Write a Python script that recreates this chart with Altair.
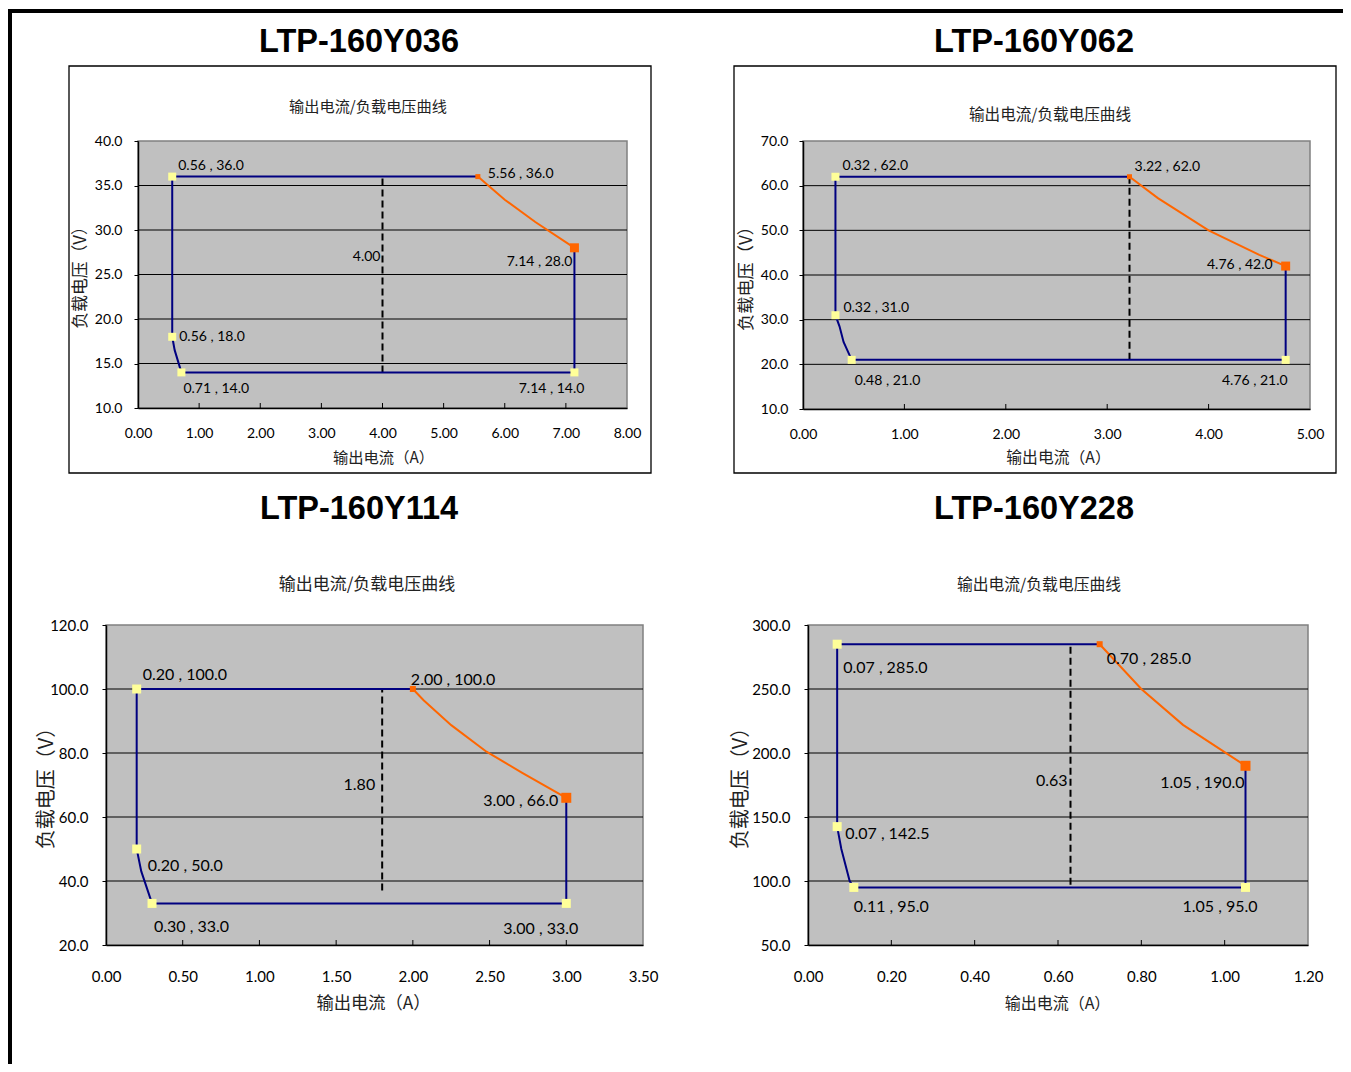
import altair as alt
import pandas as pd

LABEL_FONT = "Lato"
TITLE_FONT = "Liberation Sans"
CJK_FONT = "Noto Sans CJK SC"

NAVY = "#000080"
ORANGE = "#FF6600"
YELLOW = "#FFFF99"
PLOT_GRAY = "#C0C0C0"
TEXT_GRAY = "#222222"

SUBTITLE = "输出电流/负载电压曲线"
X_TITLE = "输出电流（A）"
Y_TITLE = "负载电压（V）"

# ---------------- LTP-160Y036 ----------------
p1_title = "LTP-160Y036"
p1_x_ticks = [0, 1, 2, 3, 4, 5, 6, 7, 8]
p1_y_ticks = [10, 15, 20, 25, 30, 35, 40]
p1_blue_x = [5.56, 0.56, 0.56, 0.60, 0.71, 7.14, 7.14]
p1_blue_y = [36.0, 36.0, 18.0, 16.5, 14.0, 14.0, 28.0]
p1_orange_x = [5.56, 6.00, 6.50, 7.14]
p1_orange_y = [36.0, 33.4, 30.9, 28.0]
p1_yellow_x = [0.56, 0.56, 0.71, 7.14]
p1_yellow_y = [36.0, 18.0, 14.0, 14.0]
p1_end_x = [5.56, 7.14]
p1_end_y = [36.0, 28.0]
p1_label_x = [0.56, 5.56, 7.14, 0.56, 0.71, 7.14]
p1_label_y = [36.0, 36.0, 28.0, 18.0, 14.0, 14.0]
p1_dash_x = 4.00
p1_dash_y = [14.0, 36.0]
p1_dash_label = "4.00"

# ---------------- LTP-160Y062 ----------------
p2_title = "LTP-160Y062"
p2_x_ticks = [0, 1, 2, 3, 4, 5]
p2_y_ticks = [10, 20, 30, 40, 50, 60, 70]
p2_blue_x = [3.22, 0.32, 0.32, 0.36, 0.40, 0.48, 4.76, 4.76]
p2_blue_y = [62.0, 62.0, 31.0, 28.5, 25.0, 21.0, 21.0, 42.0]
p2_orange_x = [3.22, 3.50, 4.00, 4.50, 4.76]
p2_orange_y = [62.0, 57.2, 50.0, 44.5, 42.0]
p2_yellow_x = [0.32, 0.32, 0.48, 4.76]
p2_yellow_y = [62.0, 31.0, 21.0, 21.0]
p2_end_x = [3.22, 4.76]
p2_end_y = [62.0, 42.0]
p2_label_x = [0.32, 3.22, 4.76, 4.76, 0.48, 0.32]
p2_label_y = [62.0, 62.0, 42.0, 21.0, 21.0, 31.0]
p2_dash_x = 3.22
p2_dash_y = [21.0, 62.0]
p2_dash_label = ""

# ---------------- LTP-160Y114 ----------------
p3_title = "LTP-160Y114"
p3_x_ticks = [0, 0.5, 1, 1.5, 2, 2.5, 3, 3.5]
p3_y_ticks = [20, 40, 60, 80, 100, 120]
p3_blue_x = [2.00, 0.20, 0.20, 0.23, 0.30, 3.00, 3.00]
p3_blue_y = [100.0, 100.0, 50.0, 43.0, 33.0, 33.0, 66.0]
p3_orange_x = [2.00, 2.07, 2.25, 2.48, 2.71, 3.00]
p3_orange_y = [100.0, 96.5, 88.7, 80.4, 73.9, 66.0]
p3_yellow_x = [0.20, 0.20, 0.30, 3.00]
p3_yellow_y = [100.0, 50.0, 33.0, 33.0]
p3_end_x = [2.00, 3.00]
p3_end_y = [100.0, 66.0]
p3_label_x = [0.20, 2.00, 3.00, 3.00, 0.30, 0.20]
p3_label_y = [100.0, 100.0, 66.0, 33.0, 33.0, 50.0]
p3_dash_x = 1.80
p3_dash_y = [37.0, 100.0]
p3_dash_label = "1.80"

# ---------------- LTP-160Y228 ----------------
p4_title = "LTP-160Y228"
p4_x_ticks = [0, 0.2, 0.4, 0.6, 0.8, 1.0, 1.2]
p4_y_ticks = [50, 100, 150, 200, 250, 300]
p4_blue_x = [0.70, 0.07, 0.07, 0.08, 0.10, 0.11, 1.05, 1.05]
p4_blue_y = [285.0, 285.0, 142.5, 125.0, 100.0, 95.0, 95.0, 190.0]
p4_orange_x = [0.70, 0.80, 0.90, 1.05]
p4_orange_y = [285.0, 250.0, 222.0, 190.0]
p4_yellow_x = [0.07, 0.07, 0.11, 1.05]
p4_yellow_y = [285.0, 142.5, 95.0, 95.0]
p4_end_x = [0.70, 1.05]
p4_end_y = [285.0, 190.0]
p4_label_x = [0.07, 0.70, 1.05, 1.05, 0.11, 0.07]
p4_label_y = [285.0, 285.0, 190.0, 95.0, 95.0, 142.5]
p4_dash_x = 0.63
p4_dash_y = [97.0, 285.0]
p4_dash_label = "0.63"

PANELS = [
    dict(title=p1_title, xt=p1_x_ticks, yt=p1_y_ticks, bx=p1_blue_x, by=p1_blue_y,
         ox=p1_orange_x, oy=p1_orange_y, yx=p1_yellow_x, yy=p1_yellow_y, ex=p1_end_x, ey=p1_end_y,
         lx=p1_label_x, ly=p1_label_y, dx=p1_dash_x, dy=p1_dash_y, dl=p1_dash_label),
    dict(title=p2_title, xt=p2_x_ticks, yt=p2_y_ticks, bx=p2_blue_x, by=p2_blue_y,
         ox=p2_orange_x, oy=p2_orange_y, yx=p2_yellow_x, yy=p2_yellow_y, ex=p2_end_x, ey=p2_end_y,
         lx=p2_label_x, ly=p2_label_y, dx=p2_dash_x, dy=p2_dash_y, dl=p2_dash_label),
    dict(title=p3_title, xt=p3_x_ticks, yt=p3_y_ticks, bx=p3_blue_x, by=p3_blue_y,
         ox=p3_orange_x, oy=p3_orange_y, yx=p3_yellow_x, yy=p3_yellow_y, ex=p3_end_x, ey=p3_end_y,
         lx=p3_label_x, ly=p3_label_y, dx=p3_dash_x, dy=p3_dash_y, dl=p3_dash_label),
    dict(title=p4_title, xt=p4_x_ticks, yt=p4_y_ticks, bx=p4_blue_x, by=p4_blue_y,
         ox=p4_orange_x, oy=p4_orange_y, yx=p4_yellow_x, yy=p4_yellow_y, ex=p4_end_x, ey=p4_end_y,
         lx=p4_label_x, ly=p4_label_y, dx=p4_dash_x, dy=p4_dash_y, dl=p4_dash_label),
]

# ---------------- layout (absolute pixels in one shared canvas) ----------------
CANVAS_W, CANVAS_H = 1335, 1056
FRAME = [(0, 1, CANVAS_W, 5), (0, 1, 4, CANVAS_H)]

LAYOUT = [
    dict(plot=(130, 133, 489, 267), box=(61, 58, 643, 465), title_xy=(351, 34),
         sub_xy=(360, 99), sub_fs=15.2, tick_fs=14, lab_fs=14, at_fs=15.3, yt_fs=16.8,
         xlab_pad=25, ylab_pad=12, xtitle=(245, 49), ytitle=(-58, 132),
         dash_dx=-2, dash_label_y=27,
         place=[("left", 6, -11), ("left", 10, -3), ("right", -2, 14),
                ("left", 7, 0), ("left", 2, 17), ("right", 10, 17)],
         ysq=64, esq=(25, 81)),
    dict(plot=(795, 133, 507, 268), box=(726, 58, 1328, 465), title_xy=(1026, 34),
         sub_xy=(1042, 107), sub_fs=15.6, tick_fs=14, lab_fs=14, at_fs=15.8, yt_fs=17.2,
         xlab_pad=25, ylab_pad=11, xtitle=(255, 48), ytitle=(-57, 133),
         dash_dx=-3, dash_label_y=0,
         place=[("left", 7, -11), ("left", 5, -10), ("right", -13, -1),
                ("right", 2, 21), ("left", 3, 21), ("left", 8, -7)],
         ysq=64, esq=(25, 81)),
    dict(plot=(98, 617, 537, 320), box=None, title_xy=(351, 501),
         sub_xy=(359, 577), sub_fs=17, tick_fs=15, lab_fs=16, at_fs=17.3, yt_fs=20,
         xlab_pad=31, ylab_pad=14, xtitle=(267, 58), ytitle=(-60, 158),
         dash_dx=-7, dash_label_y=70,
         place=[("left", 6, -14), ("left", -2, -9), ("right", -8, 3),
                ("right", 12, 26), ("left", 2, 24), ("left", 11, 17)],
         ysq=81, esq=(36, 100)),
    dict(plot=(800, 617, 500, 320), box=None, title_xy=(1026, 501),
         sub_xy=(1031, 577), sub_fs=15.8, tick_fs=15, lab_fs=16, at_fs=16, yt_fs=20,
         xlab_pad=31, ylab_pad=14, xtitle=(249, 58), ytitle=(-68, 158),
         dash_dx=-3, dash_label_y=178,
         place=[("left", 6, 24), ("left", 7, 15), ("right", -1, 17),
                ("right", 12, 20), ("left", 0, 20), ("left", 8, 7)],
         ysq=81, esq=(36, 100)),
]


def px_rect(x0, y0, x1, y1, **mark):
    return alt.Chart(alt.Data(values=[{"k": 0}])).mark_rect(**mark).encode(
        x=alt.value(x0), x2=alt.value(x1), y=alt.value(y0), y2=alt.value(y1))


def px_text(x, y, text, **mark):
    return alt.Chart(alt.Data(values=[{"k": 0}])).mark_text(**mark).encode(
        x=alt.value(x), y=alt.value(y), text=alt.value(text))


def make_panel(d, L):
    px, py, W, H = L["plot"]
    xs = alt.Scale(domain=[d["xt"][0], d["xt"][-1]], range=[px, px + W], nice=False, zero=False)
    ys = alt.Scale(domain=[d["yt"][0], d["yt"][-1]], range=[py + H, py], nice=False, zero=False)

    xaxis = alt.Axis(values=d["xt"], format=".2f", title=X_TITLE, orient="bottom",
                     offset=(py + H) - CANVAS_H, titleFont=CJK_FONT,
                     titleFontSize=L["at_fs"], titleFontWeight="normal", titleColor=TEXT_GRAY,
                     titleX=px + L["xtitle"][0], titleY=L["xtitle"][1], titleBaseline="middle",
                     titleAlign="center",
                     labelFont=LABEL_FONT, labelFontSize=L["tick_fs"], labelColor="black",
                     labelPadding=L["xlab_pad"], labelBaseline="middle", labelFlush=False,
                     labelOverlap=False, ticks=False, grid=False, domainColor="black",
                     domainWidth=1.5, zindex=1)
    yaxis = alt.Axis(values=d["yt"], format=".1f", title=Y_TITLE, orient="left",
                     offset=-px, titleFont=CJK_FONT,
                     titleFontSize=L["yt_fs"], titleFontWeight="normal", titleColor=TEXT_GRAY,
                     titleX=L["ytitle"][0], titleY=py + L["ytitle"][1], titleBaseline="middle",
                     titleAlign="center",
                     labelFont=LABEL_FONT, labelFontSize=L["tick_fs"], labelColor="black",
                     labelPadding=L["ylab_pad"], labelFlush=False, labelOverlap=False,
                     ticks=True, tickSize=4, tickColor="black", grid=False,
                     domainColor="black", domainWidth=1.5, zindex=1)
    X = lambda f: alt.X(f, scale=xs, axis=xaxis)
    Y = lambda f: alt.Y(f, scale=ys, axis=yaxis)

    layers = []
    if L["box"]:
        layers.append(px_rect(*L["box"], color="white", stroke="black", strokeWidth=1.3))
    layers.append(px_rect(px, py, px + W, py + H, color=PLOT_GRAY, stroke="#808080", strokeWidth=1.5))

    # horizontal gridlines
    grid_df = pd.DataFrame({"y": d["yt"][1:-1]})
    layers.append(alt.Chart(grid_df).mark_rule(color="black", strokeWidth=1).encode(
        y=Y("y:Q"), x=alt.value(px), x2=alt.value(px + W)))
    # inward x ticks
    tick_df = pd.DataFrame({"x": d["xt"][1:-1]})
    layers.append(alt.Chart(tick_df).mark_rule(color="black", strokeWidth=1).encode(
        x=X("x:Q"), y=alt.value(py + H - 5), y2=alt.value(py + H)))

    # dashed line
    dash_df = pd.DataFrame({"x": [d["dx"]], "y1": [d["dy"][0]], "y2": [d["dy"][1]]})
    layers.append(alt.Chart(dash_df).mark_rule(color="black", strokeWidth=2, strokeDash=[7, 4]).encode(
        x=X("x:Q"), y=Y("y1:Q"), y2="y2:Q"))

    # orange constant-power curve
    o_df = pd.DataFrame({"x": d["ox"], "y": d["oy"], "o": list(range(len(d["ox"])))})
    layers.append(alt.Chart(o_df).mark_line(color=ORANGE, strokeWidth=2).encode(
        x=X("x:Q"), y=Y("y:Q"), order="o:Q"))
    # blue boundary
    b_df = pd.DataFrame({"x": d["bx"], "y": d["by"], "o": list(range(len(d["bx"])))})
    layers.append(alt.Chart(b_df).mark_line(color=NAVY, strokeWidth=2).encode(
        x=X("x:Q"), y=Y("y:Q"), order="o:Q"))

    # markers
    yl_df = pd.DataFrame({"x": d["yx"], "y": d["yy"]})
    layers.append(alt.Chart(yl_df).mark_square(color=YELLOW, filled=True, opacity=1, size=L["ysq"]).encode(
        x=X("x:Q"), y=Y("y:Q")))
    e_df = pd.DataFrame({"x": d["ex"], "y": d["ey"], "i": [0, 1]})
    for i, sz in enumerate(L["esq"]):
        layers.append(alt.Chart(e_df).transform_filter(alt.datum.i == i).mark_square(
            color=ORANGE, filled=True, opacity=1, size=sz).encode(x=X("x:Q"), y=Y("y:Q")))

    # data labels
    l_df = pd.DataFrame({"x": d["lx"], "y": d["ly"], "i": list(range(len(d["lx"])))})
    l_df["t"] = [f"{a:.2f} , {b:.1f}" for a, b in zip(d["lx"], d["ly"])]
    for i, (al, ddx, ddy) in enumerate(L["place"]):
        layers.append(alt.Chart(l_df).transform_filter(alt.datum.i == i).mark_text(
            align=al, dx=ddx, dy=ddy, baseline="middle", font=LABEL_FONT,
            fontSize=L["lab_fs"], color="black").encode(x=X("x:Q"), y=Y("y:Q"), text="t:N"))

    if d["dl"]:
        dl_df = pd.DataFrame({"x": [d["dx"]], "y": [L["dash_label_y"]], "t": [d["dl"]]})
        layers.append(alt.Chart(dl_df).mark_text(
            align="right", dx=L["dash_dx"], baseline="middle", font=LABEL_FONT,
            fontSize=L["lab_fs"], color="black").encode(x=X("x:Q"), y=Y("y:Q"), text="t:N"))

    layers.append(px_text(*L["title_xy"], d["title"], font=TITLE_FONT, fontSize=32.5,
                          fontWeight="bold", align="center", baseline="middle", color="black"))
    layers.append(px_text(*L["sub_xy"], SUBTITLE, font=CJK_FONT, fontSize=L["sub_fs"],
                          align="center", baseline="middle", color=TEXT_GRAY))
    return alt.layer(*layers)


frame_layers = [px_rect(*fr, color="black") for fr in FRAME]
panels = [make_panel(d, L) for d, L in zip(PANELS, LAYOUT)]

chart = alt.layer(*frame_layers, *panels).resolve_scale(
    x="independent", y="independent").resolve_axis(
    x="independent", y="independent").properties(
    width=CANVAS_W, height=CANVAS_H, padding=0).configure_view(stroke=None, fill=None)

chart.save("out.html", embed_options={"renderer": "svg", "actions": False})
